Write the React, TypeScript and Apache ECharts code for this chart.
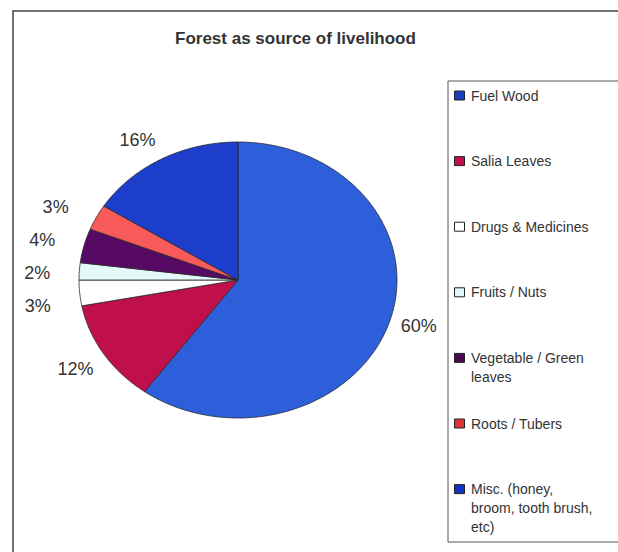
import React, { useEffect, useRef } from "react";
import * as echarts from "echarts";

const title = "Forest as source of livelihood";
const categories = [
  "Fuel Wood",
  "Salia Leaves",
  "Drugs & Medicines",
  "Fruits / Nuts",
  "Vegetable / Green\nleaves",
  "Roots / Tubers",
  "Misc. (honey,\nbroom, tooth brush,\netc)",
];
const values = [60, 12, 3, 2, 4, 3, 16];
const sliceColors = ["#2c5fd9", "#c0104c", "#ffffff", "#e4f9f9", "#560a64", "#f85a5a", "#1c3ecb"];
const markerColors = ["#1a3fbf", "#c0104a", "#ffffff", "#e0f8f8", "#4a0850", "#e03434", "#1432c0"];

const FONT = '"Liberation Sans", Arial, sans-serif';

export default function App() {
  const ref = useRef<HTMLDivElement>(null);

  useEffect(() => {
    if (!ref.current) return;
    const chart = echarts.init(ref.current, null, { renderer: "svg" });

    const cx = 238;
    const cy = 280;
    const rx = 159;
    const ry = 138;
    const total = values.reduce((a, b) => a + b, 0);
    const starts: number[] = [];
    let acc = 0;
    values.forEach((v) => {
      starts.push(acc);
      acc += v;
    });

    // label layout (outside end, small crowded labels spread apart)
    const gap = 12;
    const labels = values.map((v, i) => {
      const a0 = Math.PI / 2 - (starts[i] / total) * Math.PI * 2;
      const a1 = Math.PI / 2 - ((starts[i] + v) / total) * Math.PI * 2;
      const am = (a0 + a1) / 2;
      const c = Math.cos(am);
      const s = Math.sin(am);
      const small = v < 5;
      const push = small ? 17 : 0;
      const x = cx + (rx + gap) * c + (c < 0 ? -push : push);
      const y = cy - (ry + gap) * s;
      const vAlign = s > 0.5 ? "bottom" : s < -0.5 ? "top" : "middle";
      return { x, y, align: c < 0 ? "right" : "left", vAlign, small, left: c < 0 };
    });
    const crowd = labels
      .map((l, i) => ({ l, i }))
      .filter((o) => o.l.small && o.l.left)
      .sort((a, b) => a.l.y - b.l.y);
    if (crowd.length > 1) {
      const minGap = 33;
      const mean0 = crowd.reduce((s, o) => s + o.l.y, 0) / crowd.length;
      for (let k = 1; k < crowd.length; k++) {
        if (crowd[k].l.y < crowd[k - 1].l.y + minGap) crowd[k].l.y = crowd[k - 1].l.y + minGap;
      }
      const mean1 = crowd.reduce((s, o) => s + o.l.y, 0) / crowd.length;
      crowd.forEach((o) => (o.l.y += mean0 - mean1 + 2));
    }

    const renderItem = (params: any, api: any) => {
      const i = params.dataIndex;
      const v = api.value(0);
      const a0 = Math.PI / 2 - (starts[i] / total) * Math.PI * 2;
      const a1 = Math.PI / 2 - ((starts[i] + v) / total) * Math.PI * 2;
      const n = Math.max(4, Math.ceil(Math.abs(a1 - a0) / 0.01));
      const pts: number[][] = [[cx, cy]];
      for (let k = 0; k <= n; k++) {
        const a = a0 + ((a1 - a0) * k) / n;
        pts.push([cx + rx * Math.cos(a), cy - ry * Math.sin(a)]);
      }
      const lb = labels[i];
      return {
        type: "group",
        children: [
          {
            type: "polygon",
            shape: { points: pts },
            style: { fill: sliceColors[i], stroke: "#2a2a2a", lineWidth: 0.8 },
          },
          {
            type: "text",
            x: lb.x,
            y: lb.y,
            style: {
              text: v + "%",
              fill: "#333333",
              font: `18px ${FONT}`,
              align: lb.align,
              textAlign: lb.align,
              verticalAlign: lb.vAlign,
              textVerticalAlign: lb.vAlign,
            },
          },
        ],
      };
    };

    const legendX = 448;
    const legendY = 81;
    const firstRow = 95.5;
    const rowStep = 65.6;
    const legendEls: any[] = [
      {
        type: "rect",
        shape: { x: legendX, y: legendY, width: 300, height: 461 },
        style: { fill: "#ffffff", stroke: "#555555", lineWidth: 1 },
        z: 1,
      },
    ];
    categories.forEach((name, i) => {
      const y = firstRow + rowStep * i;
      legendEls.push({
        type: "rect",
        shape: { x: 454.5, y: y - 4.5, width: 10, height: 9 },
        style: { fill: markerColors[i], stroke: "#222222", lineWidth: 1 },
        z: 2,
      });
      legendEls.push({
        type: "text",
        x: 471,
        y: y - 9.5,
        style: {
          text: name,
          fill: "#333333",
          font: `14px ${FONT}`,
          lineHeight: 19,
          align: "left",
          verticalAlign: "top",
        },
        z: 2,
      });
    });

    chart.setOption({
      animation: false,
      backgroundColor: "#ffffff",
      title: {
        text: title,
        left: 170,
        top: 25,
        textStyle: { fontFamily: FONT, fontSize: 17, fontWeight: "bold", color: "#333333" },
      },
      graphic: [
        {
          type: "rect",
          shape: { x: 13, y: 11, width: 700, height: 700 },
          style: { fill: "none", stroke: "#444444", lineWidth: 1.5 },
          z: 0,
        },
        ...legendEls,
      ],
      series: [
        {
          type: "custom",
          coordinateSystem: "none",
          renderItem,
          data: values.map((v, i) => ({ name: categories[i], value: [v] })),
        },
      ],
    });

    return () => chart.dispose();
  }, []);

  return (
    <div
      ref={ref}
      style={{ position: "absolute", left: 0, top: 0, width: 618, height: 552 }}
    />
  );
}
